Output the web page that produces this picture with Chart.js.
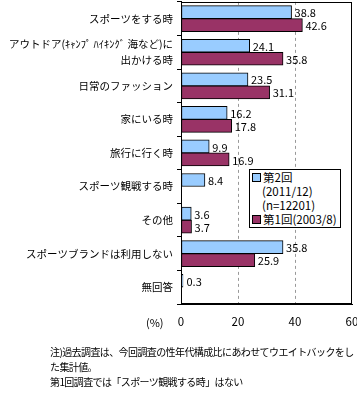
<!DOCTYPE html>
<html><head><meta charset="utf-8">
<script src="https://cdn.jsdelivr.net/npm/chart.js@4/dist/chart.umd.min.js"></script>
<style>
html,body{margin:0;padding:0;background:#fff;overflow:hidden;}
#wrap{position:absolute;left:0;top:-10px;width:357px;height:345px;}
#legend{position:absolute;left:249px;top:169px;width:92px;height:59px;border:1px solid #000;background:#fff;font:11.5px "Noto Sans CJK JP",sans-serif;color:#000;box-sizing:border-box;}
#legend div{position:absolute;white-space:nowrap;line-height:14px;}
.sw{display:inline-block;width:7px;height:7px;border:1px solid #000;margin-right:2px;vertical-align:0px;}
#pct{position:absolute;left:146px;top:314px;font:11px "Noto Sans CJK JP",sans-serif;}
#note{position:absolute;left:50px;top:344px;font:10px "Noto Sans CJK JP",sans-serif;line-height:15px;color:#000;white-space:nowrap;letter-spacing:-0.6px;}
</style></head><body>
<div id="wrap"><canvas id="c"></canvas></div>
<div id="legend">
<div style="left:2px;top:0px"><span class="sw" style="background:#99CCFF"></span>第2回</div>
<div style="left:12px;top:14px">(2011/12)</div>
<div style="left:12px;top:28px">(n=12201)</div>
<div style="left:2px;top:42px"><span class="sw" style="background:#993366"></span>第1回(2003/8)</div>
</div>
<div id="pct">(%)</div>
<div id="note">注)過去調査は、今回調査の性年代構成比にあわせてウエイトバックをし<br>た集計値。<br>第1回調査では「スポーツ観戦する時」はない</div>
<script>
const categories = [
  "スポーツをする時",
  ["アウトドア(ｷｬﾝﾌﾟ ﾊｲｷﾝｸﾞ 海など)に", "出かける時"],
  "日常のファッション",
  "家にいる時",
  "旅行に行く時",
  "スポーツ観戦する時",
  "その他",
  "スポーツブランドは利用しない",
  "無回答"
];
const series2 = [38.8, 24.1, 23.5, 16.2, 9.9, 8.4, 3.6, 35.8, 0.3];
const series1 = [42.6, 35.8, 31.1, 17.8, 16.9, null, 3.7, 25.9, null];
const seriesNames = ["第2回 (2011/12) (n=12201)", "第1回(2003/8)"];
const xTicks = [0, 20, 40, 60];

const FONT = '"Noto Sans CJK JP", sans-serif';

const valueLabels = {
  id: 'valueLabels',
  afterDatasetsDraw(chart) {
    const ctx = chart.ctx;
    ctx.save();
    ctx.font = '11px ' + FONT;
    ctx.fillStyle = '#000';
    ctx.textBaseline = 'middle';
    ctx.textAlign = 'left';
    chart.data.datasets.forEach((ds, di) => {
      const meta = chart.getDatasetMeta(di);
      meta.data.forEach((bar, i) => {
        const v = ds.data[i];
        if (v === null || v === undefined) return;
        ctx.fillText(v.toFixed(1), Math.max(bar.x, bar.base + 2) + 3, bar.y + 1);
      });
    });
    ctx.restore();
  }
};
const frame = {
  id: 'frame',
  afterDraw(chart) {
    const a = chart.chartArea, ctx = chart.ctx;
    ctx.save();
    ctx.strokeStyle = '#000';
    ctx.lineWidth = 1;
    ctx.setLineDash([]);
    ctx.strokeRect(Math.round(a.left) + 0.5, Math.round(a.top) + 0.5, Math.round(a.right - a.left) - 1, Math.round(a.bottom - a.top) - 1);
    ctx.restore();
  }
};

new Chart(document.getElementById('c'), {
  type: 'bar',
  data: {
    labels: categories,
    datasets: [
      { label: seriesNames[0], data: series2, backgroundColor: '#99CCFF', borderColor: '#000', borderWidth: 1, borderSkipped: false, minBarLength: 2 },
      { label: seriesNames[1], data: series1, backgroundColor: '#993366', borderColor: '#000', borderWidth: 1, borderSkipped: false }
    ]
  },
  options: {
    indexAxis: 'y',
    responsive: true,
    maintainAspectRatio: false,
    animation: false,
    layout: { padding: { top: 0, right: 0, left: 0, bottom: 0 } },
    plugins: { legend: { display: false }, tooltip: { enabled: false } },
    datasets: { bar: { barThickness: 13, categoryPercentage: 0.8, barPercentage: 1 } },
    scales: {
      x: {
        min: 0, max: 60,
        afterBuildTicks(s) { s.ticks = xTicks.map(v => ({ value: v })); },
        afterFit(s) { s.height = 31; s.paddingRight = 5; s.paddingLeft = 0; },
        ticks: { padding: 11, color: '#000', font: { family: FONT, size: 11.5 } },
        grid: { drawTicks: false, color: (c) => (c.tick && (c.tick.value === 20 || c.tick.value === 40)) ? '#999' : 'rgba(0,0,0,0)' },
        border: { display: true, color: '#000', dash: [3, 3] }
      },
      y: {
        afterFit(s) { s.width = 181; },
        ticks: { padding: 4, color: '#000', font: { family: FONT, size: 10.5, lineHeight: 1.5 }, autoSkip: false },
        grid: { drawOnChartArea: false, drawTicks: true, tickLength: 4, color: '#000', offset: true },
        border: { display: true, color: '#000' }
      }
    }
  },
  plugins: [valueLabels, frame]
});
</script>
</body></html>
